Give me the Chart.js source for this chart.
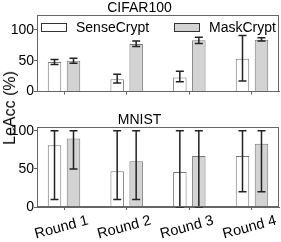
<!DOCTYPE html>
<html>
<head>
<meta charset="utf-8">
<script src="https://cdn.jsdelivr.net/npm/chart.js@4/dist/chart.umd.min.js"></script>
<style>
  body { margin: 0; background: #fff; }
  #wrap { position: relative; width: 281px; height: 242px; overflow: hidden; }
  canvas { position: absolute; left: 0; }
  #ylab {
    position: absolute; left: 10px; top: 108px;
    transform: translate(-50%, -50%) rotate(-90deg);
    font: 16px "Liberation Sans", Arial, sans-serif; white-space: nowrap; color: #000;
  }
</style>
</head>
<body>
<div id="wrap">
  <canvas id="top" width="281" height="100" style="top:0"></canvas>
  <canvas id="bottom" width="281" height="130" style="top:112px"></canvas>
  <div id="ylab">LeAcc (%)</div>
</div>
<script>
// ===== data =====
const rounds = ['Round 1', 'Round 2', 'Round 3', 'Round 4'];
const yTicks = [0, 50, 100];

const cifarSense = [48, 20, 23, 53];
const cifarSenseLow = [44, 14, 16, 17];
const cifarSenseHigh = [52, 28, 33, 91];
const cifarMask = [50, 77, 83, 84];
const cifarMaskLow = [46, 73, 78, 82];
const cifarMaskHigh = [54, 82, 88, 87];

const mnistSense = [81, 47, 46, 67];
const mnistSenseLow = [10, 10, 0, 20];
const mnistSenseHigh = [100, 100, 100, 100];
const mnistMask = [90, 60, 67, 83];
const mnistMaskLow = [50, 10, 0, 20];
const mnistMaskHigh = [100, 100, 100, 100];

const FONT = '"Liberation Sans", Arial, sans-serif';
const EDGE = '#777';

// ===== plugins =====
const errorBars = {
  id: 'errorBars',
  afterDatasetsDraw(chart) {
    const ctx = chart.ctx;
    const y = chart.scales.y;
    ctx.save();
    ctx.strokeStyle = '#222';
    ctx.lineWidth = 1.5;
    chart.data.datasets.forEach((ds, di) => {
      const meta = chart.getDatasetMeta(di);
      meta.data.forEach((bar, i) => {
        const lo = y.getPixelForValue(ds.errLow[i]);
        const hi = y.getPixelForValue(ds.errHigh[i]);
        ctx.beginPath();
        ctx.moveTo(bar.x, lo); ctx.lineTo(bar.x, hi);
        ctx.moveTo(bar.x - 4, lo); ctx.lineTo(bar.x + 4, lo);
        ctx.moveTo(bar.x - 4, hi); ctx.lineTo(bar.x + 4, hi);
        ctx.stroke();
      });
    });
    ctx.restore();
  }
};

const frame = {
  id: 'frame',
  afterDraw(chart) {
    const a = chart.chartArea;
    const ctx = chart.ctx;
    ctx.save();
    ctx.strokeStyle = '#666';
    ctx.lineWidth = 1;
    ctx.strokeRect(Math.round(a.left) + 0.5, Math.round(a.top) + 0.5,
      Math.round(a.right - a.left) - 1, Math.round(a.bottom - a.top) - 1);
    ctx.restore();
  }
};

const innerLegend = {
  id: 'innerLegend',
  afterDraw(chart, args, opts) {
    if (!opts.show) return;
    const a = chart.chartArea;
    const ctx = chart.ctx;
    ctx.save();
    ctx.font = '14px ' + FONT;
    ctx.textBaseline = 'middle';
    const xs = [4, 137];
    chart.data.datasets.forEach((ds, i) => {
      const x = Math.round(a.left + xs[i]);
      const yy = Math.round(a.top + 8);
      ctx.fillStyle = ds.backgroundColor;
      ctx.fillRect(x, yy, 25, 8);
      ctx.strokeStyle = '#333';
      ctx.lineWidth = 1;
      ctx.strokeRect(x + 0.5, yy + 0.5, 25, 8);
      ctx.fillStyle = '#000';
      ctx.fillText(ds.label, x + 35, yy + 5);
    });
    ctx.restore();
  }
};

// ===== create chart =====
function createPanel(id, title, sense, senseLo, senseHi, mask, maskLo, maskHi, yMax, showX, showLegend, xHeight) {
  return new Chart(document.getElementById(id), {
    type: 'bar',
    data: {
      labels: [0, 1, 2, 3],
      datasets: [{
        label: 'SenseCrypt',
        data: sense,
        errLow: senseLo, errHigh: senseHi,
        backgroundColor: '#ffffff',
        borderColor: EDGE,
        borderWidth: 1
      }, {
        label: 'MaskCrypt',
        data: mask,
        errLow: maskLo, errHigh: maskHi,
        backgroundColor: '#d3d3d3',
        borderColor: EDGE,
        borderWidth: 1
      }]
    },
    options: {
      responsive: false,
      animation: false,
      events: [],
      layout: { padding: { left: 0, right: 2, top: 0, bottom: 0 } },
      categoryPercentage: 0.606,
      barPercentage: 0.71,
      plugins: {
        legend: { display: false },
        tooltip: { enabled: false },
        title: {
          display: true, text: title, color: '#000',
          font: { family: FONT, size: 14, weight: 'normal', lineHeight: 1 },
          padding: { top: 1, bottom: 0 }
        },
        innerLegend: { show: showLegend }
      },
      scales: {
        x: {
          type: 'linear',
          offset: false,
          min: -0.431, max: 3.431,
          afterBuildTicks(scale) { scale.ticks = rounds.map((r, i) => ({ value: i })); },
          afterFit(scale) { scale.height = xHeight; },
          grid: { display: true, drawOnChartArea: false, tickLength: 3, color: '#666', offset: false },
          border: { display: true, color: '#666' },
          ticks: {
            display: showX,
            color: '#000',
            font: { family: FONT, size: 14.5 },
            minRotation: 15, maxRotation: 15,
            labelOffset: 24,
            padding: 2,
            autoSkip: false,
            callback: (v) => rounds[v]
          }
        },
        y: {
          min: 0, max: yMax,
          afterBuildTicks(scale) { scale.ticks = yTicks.map(v => ({ value: v })); },
          afterFit(scale) { scale.width = 37; },
          grid: { display: true, drawOnChartArea: false, tickLength: 3, color: '#666' },
          border: { display: true, color: '#666' },
          ticks: { color: '#000', padding: 0, font: { family: FONT, size: 14 } }
        }
      }
    },
    plugins: [errorBars, frame, innerLegend]
  });
}

createPanel('top', 'CIFAR100', cifarSense, cifarSenseLow, cifarSenseHigh,
  cifarMask, cifarMaskLow, cifarMaskHigh, 124, false, true, 4);
createPanel('bottom', 'MNIST', mnistSense, mnistSenseLow, mnistSenseHigh,
  mnistMask, mnistMaskLow, mnistMaskHigh, 105, true, false, 35);
</script>
</body>
</html>
